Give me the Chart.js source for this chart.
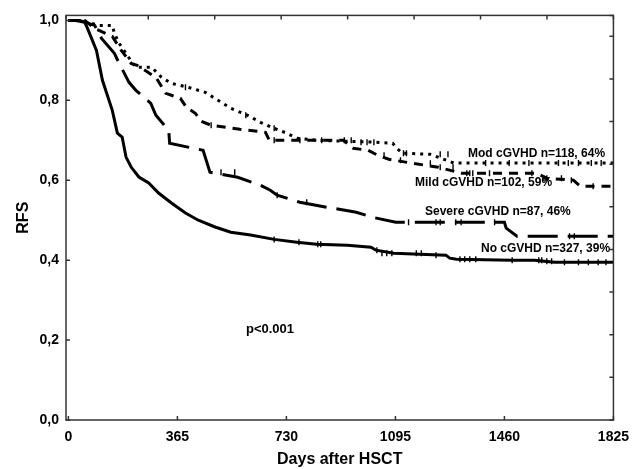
<!DOCTYPE html>
<html>
<head>
<meta charset="utf-8">
<script src="https://cdn.jsdelivr.net/npm/chart.js@4/dist/chart.umd.min.js"></script>
<style>
  html, body { margin: 0; padding: 0; background: #fff; }
  #wrap { width: 638px; height: 469px; }
</style>
</head>
<body>
<div id="wrap"><canvas id="km" width="638" height="469"></canvas></div>
<script>
// x axis (days) and y axis (RFS) ticks
const dayTicks = [0, 365, 730, 1095, 1460, 1825];
const rfsTicks = [0, 0.2, 0.4, 0.6, 0.8, 1.0];

// Mod cGVHD n=118
const modDays = [0, 38, 104, 147, 154, 170, 193, 213, 226, 279, 312, 345, 402, 458, 501, 544, 600, 643, 689, 732, 765, 831, 1030, 1086, 1096, 1119, 1212, 1290, 1825];
const modRfs = [1, 1, 0.9875, 0.9875, 0.9675, 0.9425, 0.9175, 0.895, 0.8825, 0.8825, 0.8575, 0.8425, 0.8325, 0.82, 0.8, 0.78, 0.7625, 0.745, 0.73, 0.7175, 0.705, 0.7, 0.695, 0.6925, 0.6825, 0.6675, 0.665, 0.643, 0.643];
const modCensDays = [392, 594, 689, 775, 848, 924, 947, 980, 1000, 1023, 1122, 1132, 1245, 1271, 1397, 1476, 1542, 1641, 1674, 1708, 1751, 1784];
const modCensRfs = [0.833, 0.7625, 0.73, 0.7, 0.7, 0.7, 0.7, 0.695, 0.695, 0.695, 0.6675, 0.6675, 0.665, 0.665, 0.643, 0.643, 0.643, 0.643, 0.643, 0.643, 0.643, 0.643];

// Mild cGVHD n=102
const mildDays = [0, 55, 88, 147, 177, 210, 230, 293, 326, 375, 395, 425, 445, 478, 574, 660, 673, 921, 954, 1003, 1036, 1073, 1152, 1238, 1317, 1569, 1602, 1691, 1714, 1825];
const mildRfs = [1, 1, 0.98, 0.96, 0.925, 0.8925, 0.8875, 0.8575, 0.8175, 0.805, 0.7825, 0.7675, 0.7475, 0.7375, 0.7275, 0.72, 0.70, 0.70, 0.68, 0.675, 0.6625, 0.6525, 0.6425, 0.6325, 0.6175, 0.6175, 0.605, 0.6, 0.585, 0.585];
const mildCensDays = [478, 689, 1057, 1112, 1212, 1245, 1288, 1334, 1344, 1354, 1410, 1552, 1592, 1602, 1651, 1684, 1757];
const mildCensRfs = [0.7375, 0.70, 0.6625, 0.65, 0.6425, 0.6325, 0.6325, 0.6175, 0.6175, 0.6175, 0.6175, 0.6175, 0.605, 0.605, 0.605, 0.6, 0.585];

// Severe cGVHD n=87
const sevDays = [0, 38, 88, 111, 154, 170, 203, 226, 276, 293, 336, 339, 451, 474, 567, 643, 676, 699, 775, 865, 964, 1017, 1096, 1460, 1466, 1502, 1825];
const sevRfs = [1, 1, 0.9875, 0.955, 0.9175, 0.8925, 0.845, 0.825, 0.7925, 0.7625, 0.725, 0.6925, 0.675, 0.62, 0.6075, 0.5875, 0.575, 0.5625, 0.545, 0.5325, 0.52, 0.5075, 0.495, 0.495, 0.48, 0.46, 0.46];
const sevCensDays = [511, 557, 699, 798, 1139, 1231, 1245, 1297, 1315, 1427, 1678, 1694];
const sevCensRfs = [0.62, 0.62, 0.5625, 0.545, 0.495, 0.495, 0.495, 0.495, 0.495, 0.495, 0.46, 0.46];

// No cGVHD n=327
const noDays = [0, 20, 55, 64, 94, 114, 147, 164, 180, 193, 210, 236, 269, 302, 345, 392, 435, 491, 544, 610, 689, 765, 831, 934, 1013, 1030, 1089, 1264, 1277, 1300, 1486, 1560, 1628, 1825];
const noRfs = [1, 1, 0.995, 0.98, 0.925, 0.85, 0.775, 0.718, 0.708, 0.658, 0.633, 0.608, 0.593, 0.568, 0.543, 0.518, 0.5, 0.483, 0.47, 0.463, 0.452, 0.445, 0.44, 0.4375, 0.4325, 0.425, 0.4175, 0.4125, 0.405, 0.4025, 0.4, 0.4, 0.395, 0.395];
const noCensDays = [689, 772, 835, 845, 1033, 1050, 1066, 1083, 1165, 1182, 1231, 1311, 1327, 1344, 1364, 1486, 1575, 1585, 1602, 1618, 1661, 1708, 1741, 1774, 1800];
const noCensRfs = [0.452, 0.445, 0.44, 0.44, 0.425, 0.4175, 0.4175, 0.4175, 0.4175, 0.4175, 0.4125, 0.4025, 0.4025, 0.4025, 0.4025, 0.4, 0.4, 0.4, 0.3975, 0.3975, 0.395, 0.395, 0.395, 0.395, 0.395];

const labels = [
  { text: "Mod cGVHD n=118, 64%", x: 468, y: 154 },
  { text: "Mild cGVHD n=102, 59%", x: 415, y: 183 },
  { text: "Severe cGVHD n=87, 46%", x: 425, y: 212 },
  { text: "No cGVHD n=327, 39%", x: 481, y: 249 },
];

const FONT = "'Liberation Sans', Arial, sans-serif";
const pts = (xs, ys) => xs.map((x, i) => ({ x: x, y: ys[i] }));

function curve(xs, ys, dash) {
  return {
    data: pts(xs, ys),
    borderColor: "#000",
    borderWidth: 3,
    borderDash: dash,
    borderCapStyle: "butt",
    pointRadius: 0,
    tension: 0,
    fill: false,
  };
}

function censor(xs, ys) {
  return {
    type: "scatter",
    data: pts(xs, ys),
    pointStyle: "line",
    rotation: 90,
    pointRadius: 3,
    pointBorderWidth: 1.4,
    borderColor: "#000",
    backgroundColor: "#000",
    showLine: false,
  };
}

// box round the plot with small inward ticks on all four sides
const frame = {
  id: "frame",
  afterDatasetsDraw(chart) {
    const { ctx, chartArea: a, scales } = chart;
    ctx.save();
    ctx.strokeStyle = "#333";
    ctx.lineWidth = 1.5;
    ctx.strokeRect(a.left, a.top, a.right - a.left, a.bottom - a.top);
    ctx.beginPath();
    scales.x.ticks.forEach(t => {
      const px = scales.x.getPixelForValue(t.value);
      ctx.moveTo(px, a.bottom); ctx.lineTo(px, a.bottom - 4);
    });
    scales.x2.ticks.forEach(t => {
      const px = scales.x2.getPixelForValue(t.value);
      ctx.moveTo(px, a.top); ctx.lineTo(px, a.top + 4);
    });
    scales.y.ticks.forEach(t => {
      const py = scales.y.getPixelForValue(t.value);
      ctx.moveTo(a.left, py); ctx.lineTo(a.left + 4, py);
    });
    scales.y2.ticks.forEach(t => {
      const py = scales.y2.getPixelForValue(t.value);
      ctx.moveTo(a.right, py); ctx.lineTo(a.right - 4, py);
    });
    ctx.stroke();

    ctx.fillStyle = "#000";
    ctx.textBaseline = "middle";
    ctx.textAlign = "left";
    ctx.font = "bold 12px " + FONT;
    labels.forEach(l => ctx.fillText(l.text, l.x, l.y));
    ctx.font = "bold 13px " + FONT;
    ctx.fillText("p<0.001", 246, 329);
    ctx.restore();
  },
};

new Chart(document.getElementById("km"), {
  type: "line",
  data: {
    datasets: [
      curve(noDays, noRfs, []),
      curve(sevDays, sevRfs, [30, 10]),
      curve(mildDays, mildRfs, [9, 7]),
      curve(modDays, modRfs, [3, 5]),
      censor(noCensDays, noCensRfs),
      censor(sevCensDays, sevCensRfs),
      censor(mildCensDays, mildCensRfs),
      censor(modCensDays, modCensRfs),
    ],
  },
  options: {
    responsive: false,
    animation: false,
    devicePixelRatio: 1,
    layout: { padding: { top: 15, right: 18, left: 0, bottom: 0 } },
    plugins: { legend: { display: false }, tooltip: { enabled: false } },
    scales: {
      x: {
        type: "linear",
        min: -8,
        max: 1825,
        afterFit: s => { s.height = 49; },
        afterBuildTicks: s => { s.ticks = dayTicks.map(v => ({ value: v })); },
        grid: { display: false, drawTicks: false },
        border: { display: false },
        ticks: { color: "#000", font: { family: FONT, size: 14, weight: "bold" }, padding: 9, maxRotation: 0, callback: v => String(v) },
        title: { display: true, text: "Days after HSCT", color: "#000", font: { family: FONT, size: 16, weight: "bold" }, padding: { top: 0, bottom: 0 } },
      },
      y: {
        min: 0,
        max: 1.0125,
        afterFit: s => { s.width = 66; },
        afterBuildTicks: s => { s.ticks = rfsTicks.map(v => ({ value: v })); },
        grid: { display: false, drawTicks: false },
        border: { display: false },
        ticks: { color: "#000", font: { family: FONT, size: 14, weight: "bold" }, padding: 7, callback: v => v.toFixed(1).replace(".", ",") },
        title: { display: true, text: "RFS", color: "#000", font: { family: FONT, size: 16, weight: "bold" }, padding: { top: 14, bottom: 0 } },
      },
      x2: { type: "linear", position: "top", display: false, min: -0.238, max: 8, ticks: { stepSize: 1 } },
      y2: { type: "linear", position: "right", display: false, min: 0, max: 9.49, ticks: { stepSize: 1 } },
    },
  },
  plugins: [frame],
});
</script>
</body>
</html>
